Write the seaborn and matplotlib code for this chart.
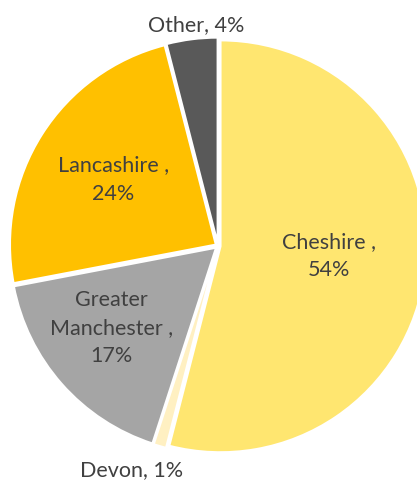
import numpy as np
import matplotlib
matplotlib.use("Agg")
import matplotlib.pyplot as plt
import seaborn as sns

# Share of records by county
counties = ["Cheshire", "Devon", "Greater Manchester", "Lancashire", "Other"]
shares = [54, 1, 17, 24, 4]
label_texts = ["Cheshire ,\n54%", "Devon, 1%", "Greater\nManchester ,\n17%",
               "Lancashire ,\n24%", "Other, 4%"]

colors = ["#FFE670", "#FFF0C2", "#A5A5A5", "#FFC000", "#595959"]
# label placement: radial distance and angular nudge (degrees) per slice
label_radius = [0.53, 1.155, 0.64, 0.59, 1.065]
label_nudge = [2.0, -5.0, -4.0, 0.0, -1.5]

sns.set_theme(style="white")
plt.rcParams["font.family"] = ["Lato", "DejaVu Sans"]

fig = plt.figure(figsize=(4.17, 4.80), dpi=100)
ax = fig.add_axes([0, 0, 1, 1])

wedges, _ = ax.pie(
    shares,
    colors=colors,
    startangle=90,
    counterclock=False,
    radius=1.0,
    explode=[0.012] * len(shares),
    wedgeprops=dict(edgecolor="white", linewidth=1.6),
)

for w, txt, rr, dn in zip(wedges, label_texts, label_radius, label_nudge):
    ang = np.deg2rad((w.theta1 + w.theta2) / 2 + dn)
    cx, cy = w.center
    ax.text(cx + rr * np.cos(ang), cy + rr * np.sin(ang), txt,
            ha="center", va="center", fontsize=15.5, color="#404040",
            linespacing=1.5)

px_per_unit = 206.0
cx_px, cy_px = 218.0, 246.0
ax.set_aspect("auto")
ax.set_xlim(-cx_px / px_per_unit, (417 - cx_px) / px_per_unit)
ax.set_ylim(-(480 - cy_px) / px_per_unit, cy_px / px_per_unit)
ax.axis("off")

fig.savefig("out.png", dpi=100, facecolor="white")
